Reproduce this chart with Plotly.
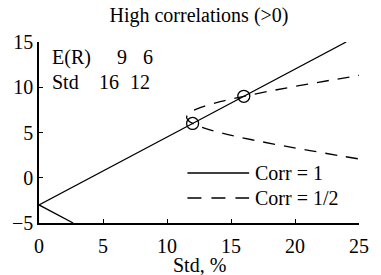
import plotly.graph_objects as go

# Data
asset_std = [16, 12]
asset_ret = [9, 6]
corr1_std = [2.67, 0, 12, 16, 24]
corr1_ret = [-5, -3, 6, 9, 15]
corr_half_std = [24.91, 23.64, 21.17, 18.81, 16.63, 14.69, 13.10, 12.0, 11.68, 11.53,
                 11.78, 12.70, 14.15, 16.0, 18.12, 20.43, 22.87, 25.0]
corr_half_ret = [2.1, 2.4, 3.0, 3.6, 4.2, 4.8, 5.4, 6.0, 6.3, 6.69,
                 7.2, 7.8, 8.4, 9.0, 9.6, 10.2, 10.8, 11.31]
x_ticks = [0, 5, 10, 15, 20, 25]
y_ticks = [-5, 0, 5, 10, 15]

F = dict(family="Liberation Serif", size=20, color="black")
W, H = 381, 275
ML, MR, MT, MB = 34, 15, 42, 52
PW, PH = W - ML - MR, H - MT - MB

def px(x):
    return (x - ML) / PW

def py(y):
    return (H - MB - y) / PH

fig = go.Figure()
fig.add_trace(go.Scatter(x=corr1_std, y=corr1_ret, mode="lines",
                         line=dict(color="black", width=1.3), showlegend=False))
fig.add_trace(go.Scatter(x=corr_half_std, y=corr_half_ret, mode="lines",
                         line=dict(color="black", width=1.3, dash="12px,9px", shape="spline"),
                         showlegend=False))
fig.add_trace(go.Scatter(x=asset_std, y=asset_ret, mode="markers",
                         marker=dict(symbol="circle-open", size=12, color="black",
                                     line=dict(width=1.3, color="black")),
                         showlegend=False))

def ann(text, x, y, xanchor="left"):
    return dict(text=text, x=x, y=y, xref="paper", yref="paper", xanchor=xanchor,
                yanchor="middle", showarrow=False, font=F)

annotations = [ann("E(R)", px(45), py(57)), ann("Std", px(45), py(82))]
for val, cx in zip(asset_ret, [120, 147]):
    annotations.append(ann(str(val), px(cx), py(57), "center"))
for val, cx in zip(asset_std, [107, 139]):
    annotations.append(ann(str(val), px(cx), py(82), "center"))
annotations.append(ann("Corr = 1", px(256), py(173)))
annotations.append(ann("Corr = 1/2", px(256), py(198)))
annotations.append(ann("Std, %", 0.5, py(265), "center"))

shapes = [
    dict(type="line", xref="paper", yref="paper", x0=px(188), x1=px(252), y0=py(173), y1=py(173),
         line=dict(color="black", width=1.3)),
    dict(type="line", xref="paper", yref="paper", x0=px(188), x1=px(252), y0=py(198), y1=py(198),
         line=dict(color="black", width=1.3, dash="14px,10px")),
]

fig.update_layout(
    width=W, height=H,
    margin=dict(l=ML, r=MR, t=MT, b=MB, pad=0),
    paper_bgcolor="white", plot_bgcolor="white",
    font=F,
    title=dict(text="High correlations (>0)", x=0.5, xref="paper", xanchor="center",
               y=1 - 15 / H, yref="container", yanchor="middle", font=F),
    xaxis=dict(range=[0, 25], tickvals=x_ticks, ticks="inside", ticklen=4, tickwidth=1.2,
               tickcolor="black", showline=True, linecolor="black", linewidth=1.5,
               showgrid=False, zeroline=False, mirror=False, ticklabelstandoff=4, tickfont=F),
    yaxis=dict(range=[-5, 15], tickvals=y_ticks, ticks="inside", ticklen=4, tickwidth=1.2,
               tickcolor="black", showline=True, linecolor="black", linewidth=1.5,
               showgrid=False, zeroline=False, mirror=False, tickfont=F),
    annotations=annotations,
    shapes=shapes,
    showlegend=False,
)

fig.write_html("out.html", config={"displayModeBar": False},
               post_script="document.body.style.margin='0px';document.body.style.overflow='hidden';")
